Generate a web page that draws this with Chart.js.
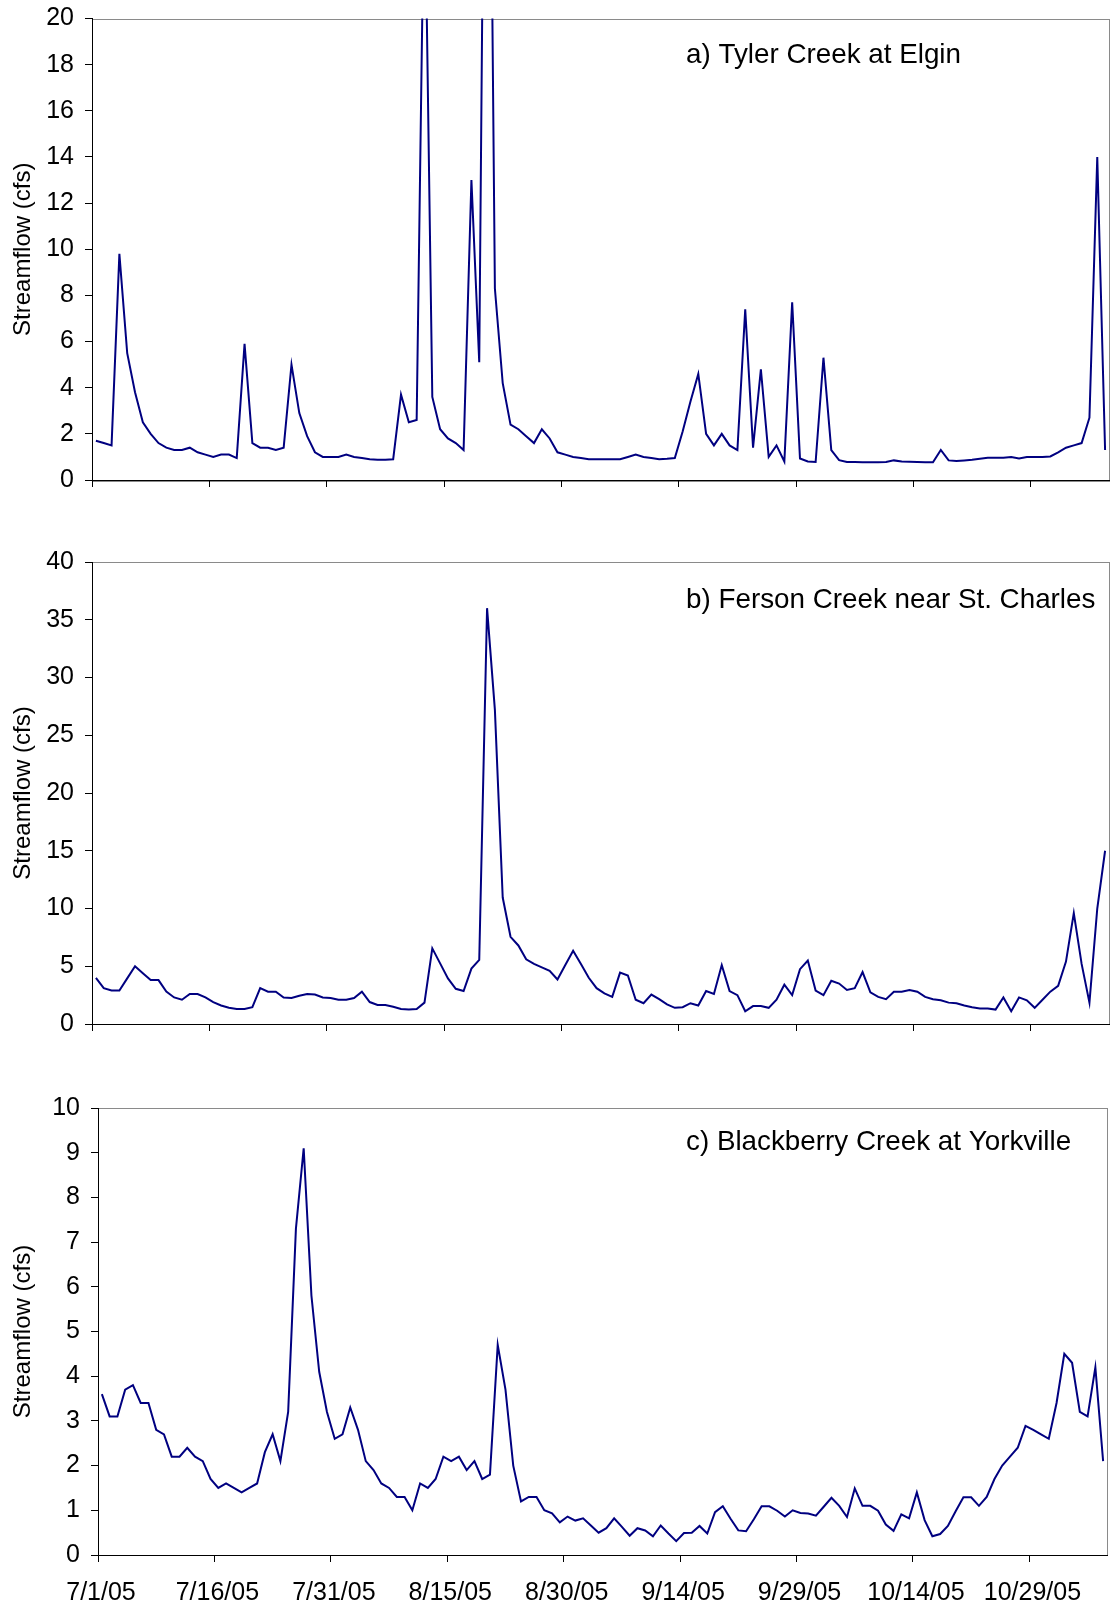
<!DOCTYPE html>
<html>
<head>
<meta charset="utf-8">
<title>Streamflow, 7/1/05 - 11/7/05</title>
<script src="https://cdn.jsdelivr.net/npm/chart.js@4.4.1/dist/chart.umd.min.js"></script>
<style>
  html, body { margin: 0; padding: 0; background: #fff; overflow: hidden; }
  #page { position: relative; width: 1112px; height: 1608px; overflow: hidden; }
  canvas { position: absolute; left: 0; }
</style>
</head>
<body>
<div id="page">
  <canvas id="chart-a" width="1112" height="540" style="top:-10px"></canvas>
  <canvas id="chart-b" width="1112" height="530" style="top:530px"></canvas>
  <canvas id="chart-c" width="1112" height="548" style="top:1060px"></canvas>
</div>
<script>
/* ============================
   Daily streamflow, three creeks
   one value per day, starting 7/1/05
   ============================ */

// x tick labels, one every 15 days
const dateLabels = ["7/1/05", "7/16/05", "7/31/05", "8/15/05", "8/30/05",
                    "9/14/05", "9/29/05", "10/14/05", "10/29/05"];

// a) Tyler Creek at Elgin (cfs) - the two big peaks run off the top of the axis
const tylerFlow = [
  1.7, 1.6, 1.5, 9.8, 5.5, 3.8, 2.5, 2.0, 1.6, 1.4,
  1.3, 1.3, 1.4, 1.2, 1.1, 1.0, 1.1, 1.1, 0.95, 5.9,
  1.6, 1.4, 1.4, 1.3, 1.4, 5.0, 2.9, 1.9, 1.2, 1.0,
  1.0, 1.0, 1.1, 1.0, 0.95, 0.9, 0.88, 0.88, 0.9, 3.7,
  2.5, 2.6, 27, 3.6, 2.2, 1.8, 1.6, 1.3, 13.0, 5.1,
  45, 8.3, 4.2, 2.4, 2.2, 1.9, 1.6, 2.2, 1.8, 1.2,
  1.1, 1.0, 0.95, 0.9, 0.9, 0.9, 0.9, 0.9, 1.0, 1.1,
  1.0, 0.95, 0.9, 0.92, 0.95, 2.1, 3.4, 4.6, 2.0, 1.5,
  2.0, 1.5, 1.3, 7.4, 1.4, 4.8, 1.0, 1.5, 0.8, 7.7,
  0.93, 0.8, 0.78, 5.3, 1.3, 0.86, 0.78, 0.78, 0.77, 0.77,
  0.77, 0.78, 0.85, 0.8, 0.79, 0.78, 0.77, 0.77, 1.3, 0.85,
  0.82, 0.85, 0.88, 0.92, 0.96, 0.96, 0.96, 1.0, 0.93, 1.0,
  1.0, 1.0, 1.02, 1.2, 1.4, 1.5, 1.6, 2.7, 14.0, 1.3
];

// b) Ferson Creek near St. Charles (cfs)
const fersonFlow = [
  4.0, 3.1, 2.9, 2.9, 3.95, 5.0, 4.4, 3.8, 3.8, 2.8,
  2.3, 2.1, 2.6, 2.6, 2.3, 1.9, 1.6, 1.4, 1.3, 1.3,
  1.45, 3.1, 2.8, 2.8, 2.3, 2.25, 2.45, 2.6, 2.55, 2.3,
  2.25, 2.1, 2.1, 2.25, 2.8, 1.9, 1.65, 1.65, 1.5, 1.3,
  1.25, 1.3, 1.85, 6.55, 5.25, 3.95, 3.05, 2.85, 4.8, 5.55,
  36.0, 27.2, 10.95, 7.55, 6.8, 5.6, 5.2, 4.9, 4.6, 3.85,
  5.1, 6.35, 5.2, 4.0, 3.1, 2.65, 2.35, 4.45, 4.2, 2.1,
  1.8, 2.55, 2.15, 1.7, 1.4, 1.45, 1.8, 1.6, 2.85, 2.6,
  5.1, 2.85, 2.5, 1.1, 1.55, 1.55, 1.4, 2.1, 3.4, 2.5,
  4.75, 5.5, 2.9, 2.5, 3.75, 3.5, 2.95, 3.1, 4.5, 2.75,
  2.35, 2.15, 2.8, 2.8, 2.95, 2.8, 2.35, 2.15, 2.05, 1.85,
  1.8, 1.6, 1.45, 1.35, 1.35, 1.25, 2.3, 1.1, 2.3, 2.05,
  1.4, 2.1, 2.8, 3.3, 5.4, 9.6, 5.2, 1.85, 10.0, 15.0
];

// c) Blackberry Creek at Yorkville (cfs)
const blackberryFlow = [
  3.6, 3.1, 3.1, 3.7, 3.8, 3.4, 3.4, 2.8, 2.7, 2.2,
  2.2, 2.4, 2.2, 2.1, 1.7, 1.5, 1.6, 1.5, 1.4, 1.5,
  1.6, 2.3, 2.7, 2.1, 3.2, 7.3, 9.1, 5.8, 4.1, 3.2,
  2.6, 2.7, 3.3, 2.8, 2.1, 1.9, 1.6, 1.5, 1.3, 1.3,
  1.0, 1.6, 1.5, 1.7, 2.2, 2.1, 2.2, 1.9, 2.1, 1.7,
  1.8, 4.7, 3.7, 2.0, 1.2, 1.3, 1.3, 1.0, 0.93, 0.73,
  0.86, 0.77, 0.82, 0.66, 0.5, 0.6, 0.82, 0.63, 0.43, 0.6,
  0.55, 0.42, 0.66, 0.48, 0.31, 0.49, 0.5, 0.65, 0.48, 0.96,
  1.09, 0.81, 0.55, 0.53, 0.8, 1.09, 1.09, 0.99, 0.86, 1.0,
  0.94, 0.93, 0.88, 1.08, 1.28, 1.1, 0.85, 1.49, 1.1, 1.1,
  0.99, 0.68, 0.54, 0.91, 0.82, 1.4, 0.78, 0.42, 0.47, 0.65,
  0.98, 1.29, 1.29, 1.1, 1.3, 1.7, 2.0, 2.2, 2.4, 2.89,
  2.8, 2.7, 2.6, 3.4, 4.5, 4.3, 3.2, 3.1, 4.2, 2.1
];

const LINE_COLOR = "#000080";
const FONT = "'Liberation Sans', Arial, Helvetica, sans-serif";
const TITLE_X = 686;   // panel names sit inside the plot, top right

Chart.defaults.font.family = FONT;
Chart.defaults.color = "#000";

// grey plot-area box (Excel style); the black axes are drawn over it afterwards
const plotFrame = {
  id: "plotFrame",
  beforeDraw(chart) {
    const { left, top, right, bottom } = chart.chartArea;
    const c = chart.ctx;
    c.save();
    c.strokeStyle = "#8a8a8a";
    c.lineWidth = 1;
    c.strokeRect(Math.round(left) + 0.5, Math.round(top) + 0.5,
                 Math.round(right - left), Math.round(bottom - top));
    c.restore();
  }
};

// panel name text, e.g. "a) Tyler Creek at Elgin"
const panelTitle = {
  id: "panelTitle",
  afterDraw(chart, args, opts) {
    const c = chart.ctx;
    c.save();
    c.font = "27.8px " + FONT;
    c.fillStyle = "#000";
    c.textBaseline = "alphabetic";
    c.fillText(opts.text, TITLE_X, chart.chartArea.top + opts.dy);
    c.restore();
  }
};

function makePanel(canvasId, p) {
  const canvas = document.getElementById(canvasId);
  // each daily value is drawn in the middle of its day
  const points = p.values.map((v, i) => ({ x: i + 0.5, y: v }));

  return new Chart(canvas, {
    type: "line",
    data: {
      datasets: [{
        data: points,
        borderColor: LINE_COLOR,
        borderWidth: 2,
        pointRadius: 0,
        tension: 0,
        fill: false
      }]
    },
    options: {
      responsive: false,
      animation: false,
      devicePixelRatio: 1,
      layout: { padding: { top: p.padTop, right: p.padRight, left: 0, bottom: 0 } },
      plugins: {
        legend: { display: false },
        tooltip: { enabled: false },
        panelTitle: { text: p.title, dy: p.titleDy }
      },
      scales: {
        x: {
          type: "linear",
          min: 0,
          max: 130,
          afterFit: s => { s.height = p.xHeight; },
          grid: { display: true, drawOnChartArea: false, drawTicks: true,
                  tickLength: 7, color: "#000", lineWidth: 1 },
          border: { display: true, color: "#000", width: 1 },
          ticks: {
            display: p.showDates,
            stepSize: 15,
            includeBounds: false,
            autoSkip: false,
            maxRotation: 0,
            padding: 16,
            labelOffset: 3,
            font: { size: 25 },
            callback: v => dateLabels[Math.round(v / 15)]
          }
        },
        y: {
          min: 0,
          max: p.yMax,
          afterFit: s => { s.width = p.axisLeft; },
          grid: { display: true, drawOnChartArea: false, drawTicks: true,
                  tickLength: 7, color: "#000", lineWidth: 1 },
          border: { display: true, color: "#000", width: 1 },
          ticks: { stepSize: p.yStep, padding: 11, font: { size: 25 } },
          title: {
            display: true,
            text: "Streamflow (cfs)",
            font: { size: 24 },
            padding: { top: 9, bottom: 0 }
          }
        }
      }
    },
    plugins: [plotFrame, panelTitle]
  });
}

// canvas a starts 10px above the page so its plot top lands at y = 17
makePanel("chart-a", {
  values: tylerFlow, title: "a) Tyler Creek at Elgin",
  yMax: 20, yStep: 2, padTop: 28.5, padRight: 3, axisLeft: 92,
  xHeight: 50, showDates: false, titleDy: 44
});

makePanel("chart-b", {
  values: fersonFlow, title: "b) Ferson Creek near St. Charles",
  yMax: 40, yStep: 5, padTop: 32, padRight: 3, axisLeft: 92,
  xHeight: 36, showDates: false, titleDy: 46
});

makePanel("chart-c", {
  values: blackberryFlow, title: "c) Blackberry Creek at Yorkville",
  yMax: 10, yStep: 1, padTop: 48, padRight: 5, axisLeft: 98,
  xHeight: 53, showDates: true, titleDy: 42
});

console.log("points:", tylerFlow.length, fersonFlow.length, blackberryFlow.length);
</script>
</body>
</html>
